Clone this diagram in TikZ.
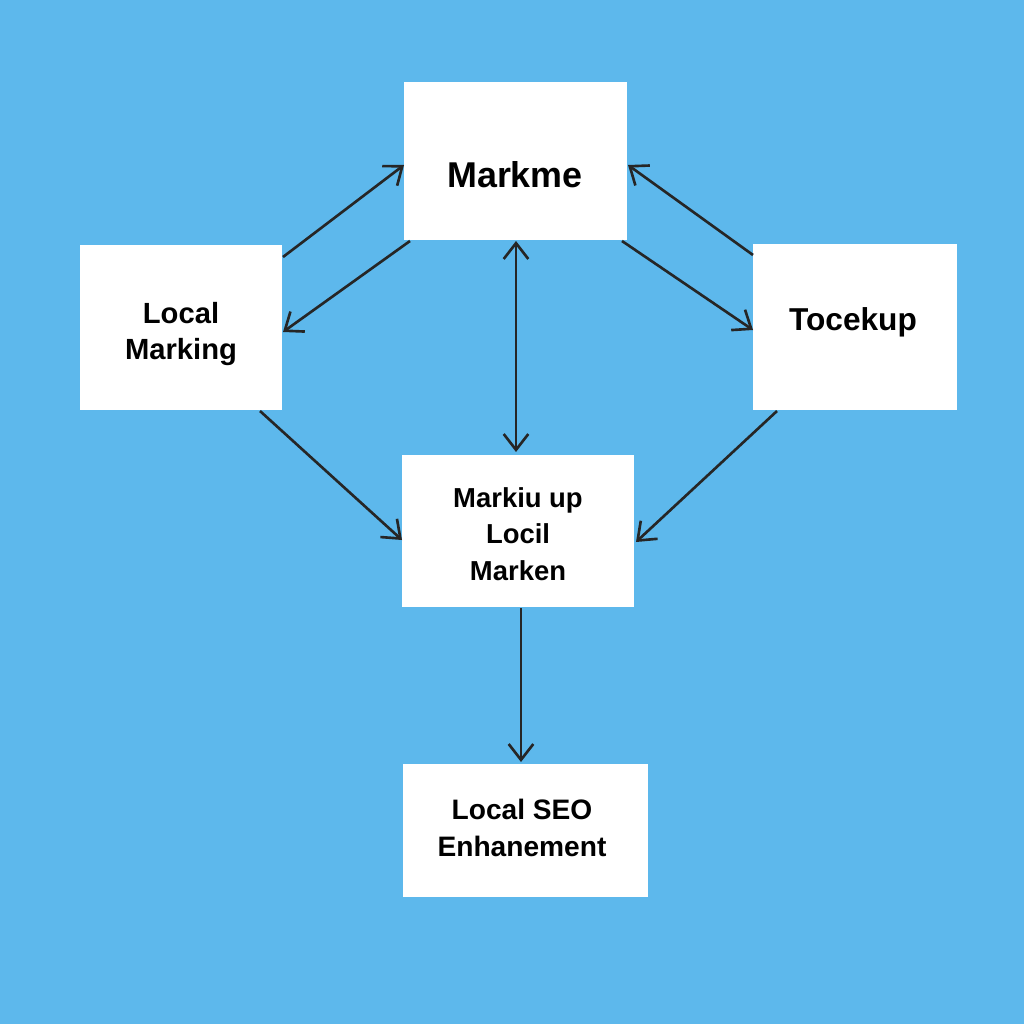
\documentclass[tikz,border=0pt]{standalone}
\usepackage{fontspec}
\setmainfont{Liberation Sans}
\usetikzlibrary{arrows.meta}
\begin{document}
\begin{tikzpicture}[x=0.01cm,y=-0.01cm,
  arr/.style={draw=black!85,line width=0.75pt,-{Straight Barb[length=4.5pt,width=7pt]}},
  darr/.style={draw=black!85,line width=0.75pt,{Straight Barb[length=4.5pt,width=7pt]}-{Straight Barb[length=4.5pt,width=7pt]}}]
\useasboundingbox (0,0) rectangle (1024,1024);
\fill[fill={rgb,255:red,93;green,184;blue,236}] (0,0) rectangle (1024,1024);
\fill[white] (404,82) rectangle (627,240); \node[font=\bfseries\fontsize{10.2}{12}\selectfont] (m) at (515,175) {Markme};
\fill[white] (80,245) rectangle (282,410); \node[font=\bfseries\fontsize{8.3}{10.3}\selectfont,align=center] (l) at (181,334) {Local\\Marking};
\fill[white] (753,244) rectangle (957,410); \node[font=\bfseries\fontsize{9}{11}\selectfont] (t) at (853,322) {Tocekup};
\fill[white] (402,455) rectangle (634,607); \node[font=\bfseries\fontsize{7.8}{10.3}\selectfont,align=center] (c) at (518,534) {Markiu up\\Locil\\Marken};
\fill[white] (403,764) rectangle (648,897); \node[font=\bfseries\fontsize{8}{10.3}\selectfont,align=center] (s) at (522,828) {Local SEO\\Enhanement};
\coordinate (a1) at (283,257); \coordinate (a2) at (404,165);
\coordinate (b1) at (410,241); \coordinate (b2) at (283,332);
\coordinate (c1) at (516,241); \coordinate (c2) at (516,452);
\coordinate (d1) at (753,255); \coordinate (d2) at (628,165);
\coordinate (e1) at (622,241); \coordinate (e2) at (753,330);
\coordinate (f1) at (260,411); \coordinate (f2) at (402,540);
\coordinate (g1) at (777,411); \coordinate (g2) at (636,542);
\coordinate (h1) at (521,608); \coordinate (h2) at (521,762);
\draw[arr] (a1)--(a2); \draw[arr] (b1)--(b2); \draw[darr] (c1)--(c2);
\draw[arr] (d1)--(d2); \draw[arr] (e1)--(e2); \draw[arr] (f1)--(f2);
\draw[arr] (g1)--(g2); \draw[arr] (h1)--(h2);
\end{tikzpicture}
\end{document}
